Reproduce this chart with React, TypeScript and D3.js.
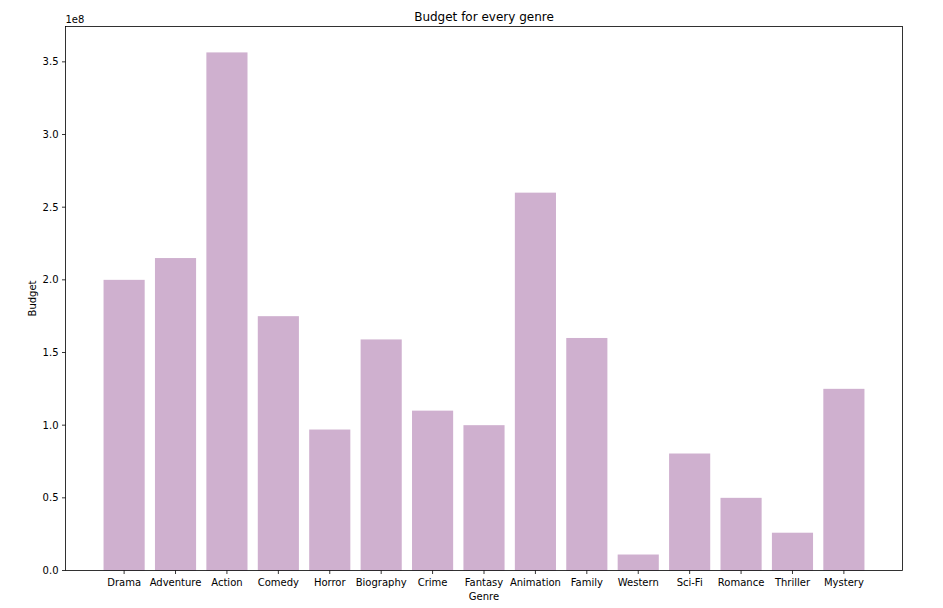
import React from "react";
import * as d3 from "d3";

const genres = ["Drama", "Adventure", "Action", "Comedy", "Horror", "Biography", "Crime", "Fantasy", "Animation", "Family", "Western", "Sci-Fi", "Romance", "Thriller", "Mystery"];
const budgets = [2.0e8, 2.15e8, 3.565e8, 1.75e8, 0.97e8, 1.59e8, 1.1e8, 1.0e8, 2.6e8, 1.6e8, 0.11e8, 0.805e8, 0.5e8, 0.26e8, 1.25e8];
const yTicks = [0, 0.5e8, 1.0e8, 1.5e8, 2.0e8, 2.5e8, 3.0e8, 3.5e8];
const yTickLabels = ["0.0", "0.5", "1.0", "1.5", "2.0", "2.5", "3.0", "3.5"];

const W = 943, H = 608;
const L = 65.5, R = 902.5, T = 26.5, B = 570.5;
const FONT = "DejaVu Sans, sans-serif";
const BAR = "#cfb0cf";

export default function App() {
  const n = genres.length;
  const xmin = -0.4, xmax = n - 1 + 0.4;
  const xm = (xmax - xmin) * 0.05;
  const x = d3.scaleLinear().domain([xmin - xm, xmax + xm]).range([L, R]);
  const ymaxData = d3.max(budgets) as number;
  const y = d3.scaleLinear().domain([0, ymaxData * 1.05]).range([B, T]);
  const bw = x(0.4) - x(-0.4);

  return (
    <svg width={W} height={H} style={{ position: "absolute", left: 0, top: 0, background: "#fff" }} fontFamily={FONT}>
      <rect x={0} y={0} width={W} height={H} fill="#fff" />
      {budgets.map((v, i) => (
        <rect key={i} x={x(i) - bw / 2} y={y(v)} width={bw} height={y(0) - y(v)} fill={BAR} />
      ))}
      <rect x={L} y={T} width={R - L} height={B - T} fill="none" stroke="#000" strokeWidth={0.8} />
      {genres.map((g, i) => (
        <g key={g}>
          <line x1={x(i)} x2={x(i)} y1={B} y2={B + 3.5} stroke="#000" strokeWidth={0.8} />
          <text x={x(i)} y={B + 15.5} fontSize={10} textAnchor="middle" fill="#000">{g}</text>
        </g>
      ))}
      {yTicks.map((t, i) => (
        <g key={t}>
          <line x1={L - 3.5} x2={L} y1={y(t)} y2={y(t)} stroke="#000" strokeWidth={0.8} />
          <text x={L - 7} y={y(t) + 3.6} fontSize={10} textAnchor="end" fill="#000">{yTickLabels[i]}</text>
        </g>
      ))}
      <text x={L} y={T - 4} fontSize={10} fill="#000">1e8</text>
      <text x={(L + R) / 2} y={21} fontSize={12} textAnchor="middle" fill="#000">Budget for every genre</text>
      <text x={(L + R) / 2} y={600} fontSize={10} textAnchor="middle" fill="#000">Genre</text>
      <text transform={`translate(36, ${(T + B) / 2}) rotate(-90)`} fontSize={10} textAnchor="middle" fill="#000">Budget</text>
    </svg>
  );
}
